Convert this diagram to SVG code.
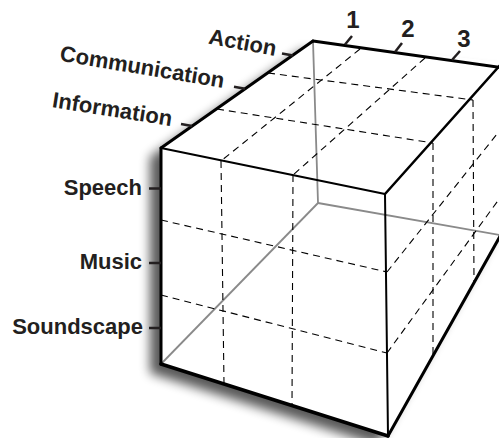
<svg xmlns="http://www.w3.org/2000/svg" width="499" height="438" viewBox="0 0 499 438">
  <defs>
    <filter id="blur" x="-20%" y="-20%" width="140%" height="140%">
      <feGaussianBlur stdDeviation="5.5"/>
    </filter>
  </defs>
  <style>
    .lbl { font-family: "Liberation Sans", Arial, Helvetica, sans-serif; font-weight: bold; font-size: 22px; fill: #231f20; }
    .num { font-family: "Liberation Sans", Arial, Helvetica, sans-serif; font-weight: bold; font-size: 24px; fill: #231f20; text-anchor: middle; }
    .tick { stroke: #231f20; stroke-width: 2.5; fill: none; }
    .dash { stroke: #000; stroke-width: 1.1; stroke-dasharray: 7 5; fill: none; }
    .hid { stroke: #8a8a8a; stroke-width: 1.8; fill: none; }
    .edge { stroke: #000; fill: none; stroke-linecap: round; stroke-linejoin: round; }
  </style>

  <g id="shadow">
    <polygon points="161,148 313,41 520,64 520,200 388,436 161,364" fill="#000" opacity="0.65" filter="url(#blur)" transform="translate(-11,9)"/>
  </g>

  <g id="cube">
    <polygon points="161,148 313,41 520,64 520,200 388,436 161,364" fill="#fff"/>
    <line class="hid" x1="313" y1="41" x2="318" y2="203"/>
    <line class="hid" x1="161" y1="364" x2="318" y2="203"/>
    <line class="hid" x1="318" y1="203" x2="505" y2="236"/>
  </g>

  <g id="connectors">
    <line class="dash" x1="268" y1="73" x2="473" y2="100"/>
    <line class="dash" x1="217" y1="109" x2="433" y2="143"/>
    <line class="dash" x1="360" y1="49" x2="221" y2="161"/>
    <line class="dash" x1="425" y1="58" x2="293" y2="175"/>
    <line class="dash" x1="221" y1="161" x2="224" y2="384"/>
    <line class="dash" x1="293" y1="175" x2="292" y2="405"/>
    <line class="dash" x1="161" y1="220" x2="387" y2="272"/>
    <line class="dash" x1="161" y1="295" x2="387" y2="353"/>
    <line class="dash" x1="433" y1="143" x2="433" y2="355"/>
    <line class="dash" x1="473" y1="100" x2="474" y2="282"/>
    <line class="dash" x1="387" y1="272" x2="505" y2="124"/>
    <line class="dash" x1="387" y1="353" x2="505" y2="191"/>
  </g>

  <g id="edges">
    <line class="edge" stroke-width="3" x1="313" y1="41" x2="161" y2="148"/>
    <line class="edge" stroke-width="3" x1="313" y1="41" x2="505" y2="68"/>
    <line class="edge" stroke-width="2" x1="161" y1="148" x2="385" y2="194"/>
    <line class="edge" stroke-width="2.5" x1="385" y1="194" x2="503" y2="62"/>
    <line class="edge" stroke-width="3" x1="161" y1="148" x2="161" y2="364"/>
    <line class="edge" stroke-width="3.5" x1="161" y1="364" x2="388" y2="436"/>
    <line class="edge" stroke-width="2" x1="385" y1="194" x2="388" y2="436"/>
    <line class="edge" stroke-width="3" x1="388" y1="436" x2="503" y2="231"/>
  </g>

  <g id="col-labels">
    <line class="tick" stroke-width="2" x1="345" y1="44.5" x2="352" y2="36"/>
    <line class="tick" stroke-width="2" x1="395" y1="52" x2="402" y2="43"/>
    <line class="tick" stroke-width="2" x1="452" y1="60" x2="460" y2="51"/>
    <text class="num" x="353" y="28">1</text>
    <text class="num" x="408" y="37">2</text>
    <text class="num" x="464" y="47">3</text>
  </g>

  <g id="action">
    <line class="tick" x1="282" y1="53.5" x2="293" y2="55.5"/>
    <text class="lbl" text-anchor="end" x="275" y="56" transform="rotate(10.5 275 56)">Action</text>
  </g>
  <g id="communication">
    <line class="tick" x1="234" y1="86.8" x2="245" y2="88.8"/>
    <text class="lbl" text-anchor="end" x="223" y="88" transform="rotate(9.5 223 88)">Communication</text>
  </g>
  <g id="information">
    <line class="tick" x1="181" y1="124" x2="192" y2="126"/>
    <text class="lbl" text-anchor="end" x="171" y="126" transform="rotate(9 171 126)">Information</text>
  </g>

  <g id="speech">
    <line class="tick" x1="149" y1="188.5" x2="161" y2="188.5"/>
    <text class="lbl" text-anchor="end" x="142" y="195">Speech</text>
  </g>
  <g id="music">
    <line class="tick" x1="149" y1="263" x2="161" y2="263"/>
    <text class="lbl" text-anchor="end" x="142" y="269">Music</text>
  </g>
  <g id="soundscape">
    <line class="tick" x1="149" y1="328" x2="161" y2="328"/>
    <text class="lbl" text-anchor="end" x="143" y="334">Soundscape</text>
  </g>
</svg>
